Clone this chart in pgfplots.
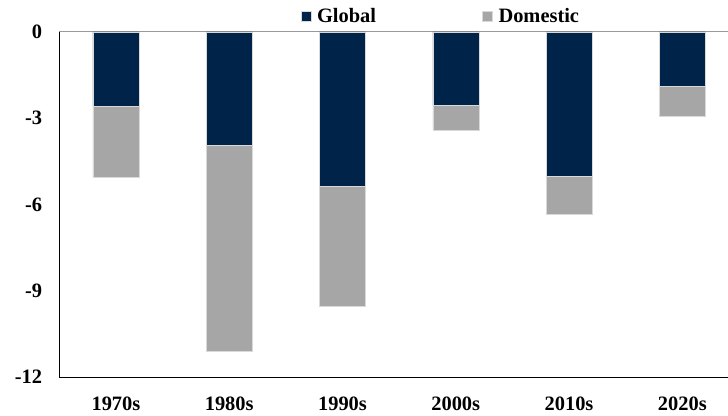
\documentclass[border=0pt]{standalone}
\usepackage{pgfplots}
\pgfplotsset{compat=1.18}
\usepackage{fontspec}
\setmainfont{Liberation Serif}
\definecolor{navy}{HTML}{00234A}
\definecolor{gry}{HTML}{A6A6A6}
\begin{document}
\begin{tikzpicture}
\begin{axis}[
  scale only axis, width=668.7bp, height=345bp,
  ybar stacked, bar width=46bp,
  xmin=-0.5, xmax=5.4035, ymin=-12, ymax=0,
  axis lines*=left,
  axis line style={black, line width=0.8bp},
  major tick length=0pt,
  xtick={0,1,2,3,4,5},
  xticklabels={1970s,1980s,1990s,2000s,2010s,2020s},
  ytick={0,-3,-6,-9,-12},
  yticklabels={0,-3,-6,-9,-12},
  tick label style={font=\fontsize{20.5}{21}\selectfont\bfseries},
  yticklabel style={anchor=east, inner sep=0pt, xshift=-17bp},
  xticklabel style={anchor=north, inner sep=0pt, yshift=-20bp},
  legend columns=2,
  legend style={draw=none, fill=none, at={(0.569,1.046)}, anchor=center,
    font=\fontsize{20.5}{21}\selectfont\bfseries,
    nodes={inner xsep=0pt},
    /tikz/every even column/.append style={column sep=106bp}},
  legend image code/.code={\fill (0bp,-5bp) rectangle (10bp,5bp); \path (16bp,0bp);},
  clip=false,
]
\addplot[fill=navy, draw=gray!30, line width=0.5bp] coordinates {
  (0,-2.57) (1,-3.94) (2,-5.38) (3,-2.54) (4,-5.03) (5,-1.87)};
\addlegendentry{Global}
\addplot[fill=gry, draw=gray!30, line width=0.5bp] coordinates {
  (0,-2.48) (1,-7.16) (2,-4.15) (3,-0.87) (4,-1.30) (5,-1.05)};
\addlegendentry{Domestic}
\draw[gray!80, line width=1bp] (axis cs:-0.5,0) -- (axis cs:5.4035,0);
\coordinate (bl) at (rel axis cs:0,0);
\coordinate (tr) at (rel axis cs:1,1);
\end{axis}
\pgfresetboundingbox
\path[use as bounding box] ([shift={(-59.3bp,-39bp)}]bl) rectangle ([shift={(0bp,32bp)}]tr);
\end{tikzpicture}
\end{document}
